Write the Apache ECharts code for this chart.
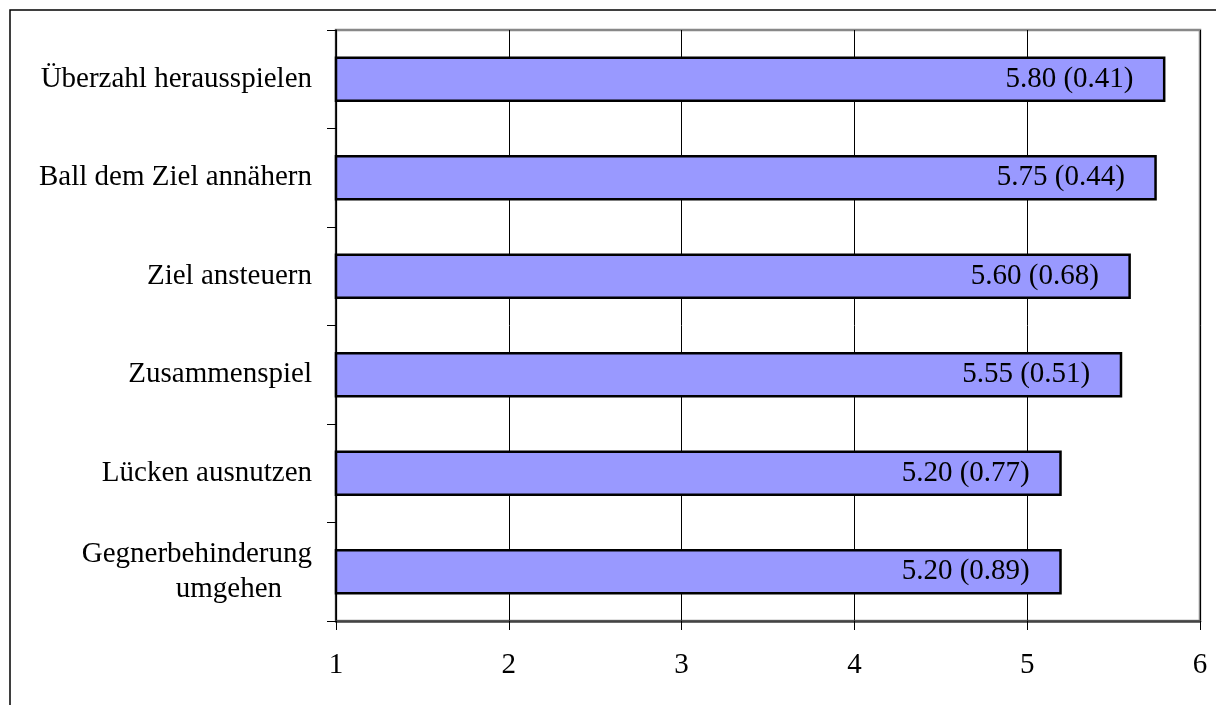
<!DOCTYPE html>
<html><head><meta charset="utf-8">
<script src="https://cdn.jsdelivr.net/npm/echarts@6/dist/echarts.min.js"></script>
<style>html,body{margin:0;padding:0;background:#fff}#c{width:1216px;height:705px}</style>
</head><body><div id="c"></div>
<script>
const categories = ['Überzahl herausspielen', 'Ball dem Ziel annähern', 'Ziel ansteuern', 'Zusammenspiel', 'Lücken ausnutzen', 'Gegnerbehinderung\numgehen'];
const means = [5.80, 5.75, 5.60, 5.55, 5.20, 5.20];
const sds = [0.41, 0.44, 0.68, 0.51, 0.77, 0.89];
const xTicks = [1, 2, 3, 4, 5, 6];

const FONT = '"Liberation Serif", "Times New Roman", serif';
const FS = 29;
const chart = echarts.init(document.getElementById('c'));
chart.setOption({
  animation: false,
  backgroundColor: '#fff',
  graphic: [{
    type: 'rect', z: 100, silent: true,
    shape: { x: 10, y: 10, width: 1400, height: 900 },
    style: { fill: 'none', stroke: '#000', lineWidth: 1.5 }
  }],
  grid: { left: 336, right: 16, top: 30, bottom: 84, show: true, borderColor: '#888', borderWidth: 2.5, backgroundColor: 'transparent' },
  xAxis: {
    type: 'value', min: xTicks[0], max: xTicks[xTicks.length - 1], interval: 1,
    axisLine: { show: true, lineStyle: { color: '#444', width: 2.5 } },
    axisTick: { show: true, length: 9, lineStyle: { color: '#000', width: 1 } },
    splitLine: { show: true, lineStyle: { color: '#000', width: 1 } },
    axisLabel: { margin: 30, fontFamily: FONT, fontSize: FS, color: '#000' }
  },
  yAxis: {
    type: 'category', inverse: true, data: categories,
    axisLine: { show: true, lineStyle: { color: '#000', width: 1.5 } },
    axisTick: { show: true, length: 9, lineStyle: { color: '#000', width: 1 } },
    splitLine: { show: false },
    axisLabel: {
      margin: 24, fontFamily: FONT, fontSize: FS, color: '#000', lineHeight: 35,
      formatter: function (v) {
        const parts = v.split('\n');
        if (parts.length === 1) return v;
        return '{a|' + parts[0] + '}\n{b|' + parts[1] + '}';
      },
      rich: {
        a: { fontFamily: FONT, fontSize: FS, color: '#000', lineHeight: 35 },
        b: { fontFamily: FONT, fontSize: FS, color: '#000', lineHeight: 35, padding: [0, 30, 0, 0] }
      }
    }
  },
  series: [{
    type: 'bar', data: means, barWidth: '46%',
    itemStyle: { color: '#9999FF', borderColor: '#000', borderWidth: 2.5 },
    label: {
      show: true, position: 'insideRight', distance: 32,
      fontFamily: FONT, fontSize: FS, color: '#000',
      formatter: function (p) { return means[p.dataIndex].toFixed(2) + ' (' + sds[p.dataIndex].toFixed(2) + ')'; }
    }
  }]
});
</script></body></html>
